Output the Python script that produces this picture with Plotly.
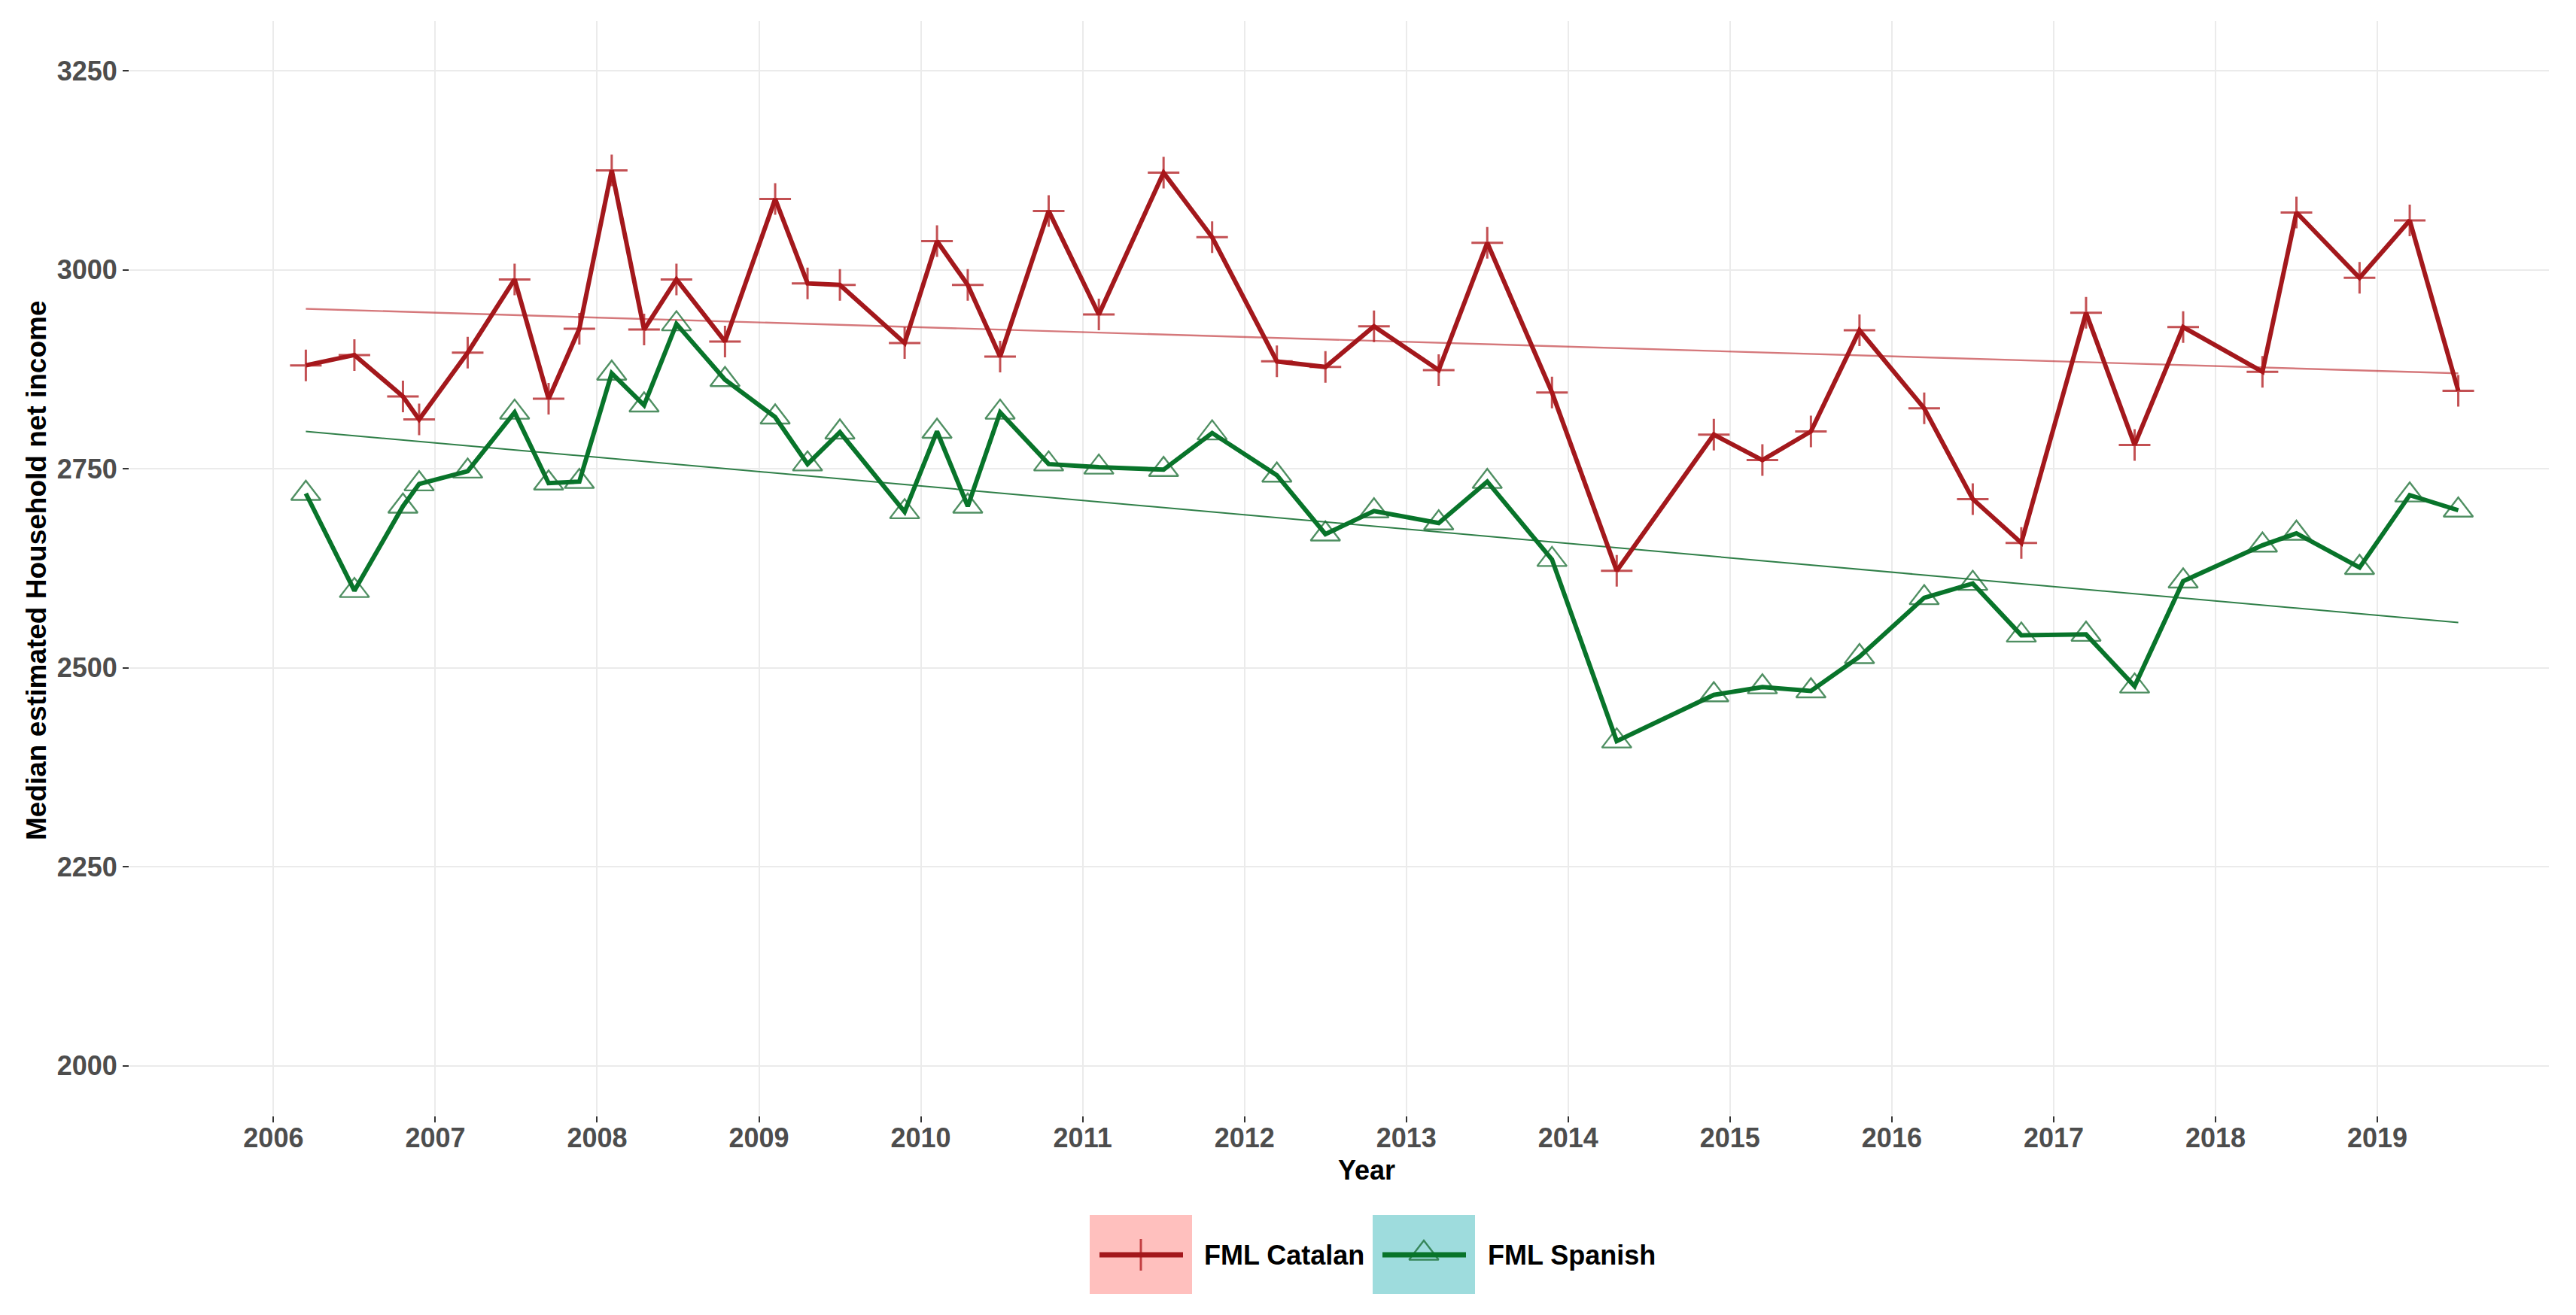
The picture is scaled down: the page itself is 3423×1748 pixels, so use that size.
import plotly.graph_objects as go

# ---------------- data ----------------
dates = [2006.20, 2006.50, 2006.80, 2006.90, 2007.20, 2007.49, 2007.70, 2007.89,
         2008.09, 2008.29, 2008.49, 2008.79, 2009.10, 2009.30, 2009.50, 2009.90,
         2010.10, 2010.29, 2010.49, 2010.79, 2011.10, 2011.50, 2011.80, 2012.20,
         2012.50, 2012.80, 2013.20, 2013.50, 2013.90, 2014.30, 2014.90, 2015.20,
         2015.50, 2015.80, 2016.20, 2016.50, 2016.80, 2017.20, 2017.50, 2017.80,
         2018.29, 2018.50, 2018.89, 2019.20, 2019.50]

catalan = [2880, 2893, 2841, 2812, 2896, 2988, 2838, 2926, 3125, 2925, 2988, 2910,
           3089, 2983, 2981, 2908, 3036, 2981, 2891, 3074, 2944, 3122, 3041, 2885,
           2878, 2929, 2874, 3034, 2846, 2622, 2793, 2761, 2797, 2924, 2826, 2712,
           2657, 2946, 2780, 2928, 2872, 3072, 2990, 3062, 2848]

spanish = [2719, 2597, 2703, 2731, 2747, 2821, 2732, 2734, 2870, 2830, 2932, 2862,
           2815, 2756, 2796, 2696, 2797, 2703, 2821, 2756, 2752, 2749, 2795, 2742,
           2668, 2697, 2682, 2734, 2636, 2408, 2466, 2476, 2471, 2514, 2588, 2606,
           2541, 2542, 2477, 2609, 2654, 2669, 2626, 2717, 2698]

trend_x = [2006.20, 2019.50]
catalan_trend = [2951, 2870]
spanish_trend = [2797, 2557]

year_ticks = list(range(2006, 2020))
y_ticks = [2000, 2250, 2500, 2750, 3000, 3250]

series_names = ["FML Catalan", "FML Spanish"]

# ---------------- style ----------------
W, H = 3423, 1748
RED = "#A3181C"
GREEN = "#08742A"
RED_MK = "rgba(175,22,26,0.75)"
GREEN_MK = "rgba(20,105,45,0.75)"
FONT = "Liberation Sans, Arial, Helvetica, sans-serif"

# panel placement (pixels)
PL, PR, PT, PB = 172, 3387, 28, 1483

fig = go.Figure()

# trend lines
fig.add_trace(go.Scatter(x=trend_x, y=catalan_trend, mode="lines",
                         line=dict(color="rgba(185,30,35,0.6)", width=2.4),
                         showlegend=False, hoverinfo="skip"))
fig.add_trace(go.Scatter(x=trend_x, y=spanish_trend, mode="lines",
                         line=dict(color="rgba(10,105,40,0.85)", width=2),
                         showlegend=False, hoverinfo="skip"))

# main series
fig.add_trace(go.Scatter(x=dates, y=catalan, mode="lines+markers", name=series_names[0],
                         line=dict(color=RED, width=6),
                         marker=dict(symbol="cross-thin-open", size=30, color=RED_MK,
                                     line=dict(width=3, color=RED_MK)),
                         showlegend=False))
fig.add_trace(go.Scatter(x=dates, y=spanish, mode="lines+markers", name=series_names[1],
                         line=dict(color=GREEN, width=6),
                         marker=dict(symbol="triangle-up-open", size=34, color=GREEN_MK,
                                     line=dict(width=2.4, color=GREEN_MK)),
                         showlegend=False))

# ---------------- custom legend (pixel overlay axes) ----------------
boxes = [(1448, 1615, 1584, 1720, "#FFC0BE"), (1824, 1615, 1960, 1720, "#9EDCDD")]
shapes = []
for x0, y0, x1, y1, c in boxes:
    shapes.append(dict(type="rect", xref="x2", yref="y2", x0=x0, y0=y0, x1=x1, y1=y1,
                       fillcolor=c, line=dict(width=0), layer="below"))
shapes.append(dict(type="line", xref="x2", yref="y2", x0=1461, x1=1572, y0=1668, y1=1668,
                   line=dict(color=RED, width=7)))
shapes.append(dict(type="line", xref="x2", yref="y2", x0=1837, x1=1948, y0=1668, y1=1668,
                   line=dict(color=GREEN, width=7)))
fig.update_layout(shapes=shapes)

fig.add_trace(go.Scatter(x=[1516], y=[1668], xaxis="x2", yaxis="y2", mode="markers",
                         marker=dict(symbol="cross-thin-open", size=30, color=RED_MK,
                                     line=dict(width=3, color=RED_MK)),
                         cliponaxis=False, showlegend=False, hoverinfo="skip"))
fig.add_trace(go.Scatter(x=[1892], y=[1666], xaxis="x2", yaxis="y2", mode="markers",
                         marker=dict(symbol="triangle-up-open", size=34, color=GREEN_MK,
                                     line=dict(width=2.4, color=GREEN_MK)),
                         cliponaxis=False, showlegend=False, hoverinfo="skip"))

annotations = [
    dict(text=series_names[0], x=1598, y=1668, xref="x2", yref="y2", xanchor="left",
         yanchor="middle", showarrow=False,
         font=dict(family=FONT, size=36, color="black", weight="bold")),
    dict(text=series_names[1], x=1975, y=1668, xref="x2", yref="y2", xanchor="left",
         yanchor="middle", showarrow=False,
         font=dict(family=FONT, size=36, color="black", weight="bold")),
    dict(text="Year", x=1816, y=1555, xref="x2", yref="y2", xanchor="center",
         yanchor="middle", showarrow=False,
         font=dict(family=FONT, size=36, color="black", weight="bold")),
    dict(text="Median estimated Household net income", x=48, y=758, xref="x2", yref="y2",
         xanchor="center", yanchor="middle", textangle=-90, showarrow=False,
         font=dict(family=FONT, size=37, color="black", weight="bold")),
]
fig.update_layout(annotations=annotations)

tickfont = dict(family=FONT, size=36, color="#4D4D4D", weight="bold")

fig.update_layout(
    width=W, height=H,
    margin=dict(l=0, r=0, t=0, b=0, pad=0),
    paper_bgcolor="white", plot_bgcolor="rgba(0,0,0,0)",
    xaxis=dict(domain=[PL / W, PR / W], range=[2005.11, 2020.06],
               tickmode="array", tickvals=year_ticks, ticktext=[str(y) for y in year_ticks],
               showgrid=True, gridcolor="#EBEBEB", gridwidth=2, zeroline=False,
               showline=False, ticks="outside", ticklen=8, tickwidth=2, tickcolor="#333333",
               tickfont=tickfont, ticklabelstandoff=-10, anchor="y"),
    yaxis=dict(domain=[1 - PB / H, 1 - PT / H], range=[1937.5, 3312.5],
               tickmode="array", tickvals=y_ticks, ticktext=[str(v) for v in y_ticks],
               showgrid=True, gridcolor="#EBEBEB", gridwidth=2, zeroline=False,
               showline=False, ticks="outside", ticklen=8, tickwidth=2, tickcolor="#333333",
               tickfont=tickfont, anchor="x"),
    xaxis2=dict(domain=[0, 1], range=[0, W], visible=False, anchor="y2"),
    yaxis2=dict(domain=[0, 1], range=[H, 0], visible=False, anchor="x2"),
)

fig.write_html("out.html", config={"displayModeBar": False},
               post_script="document.body.style.margin='0';")
